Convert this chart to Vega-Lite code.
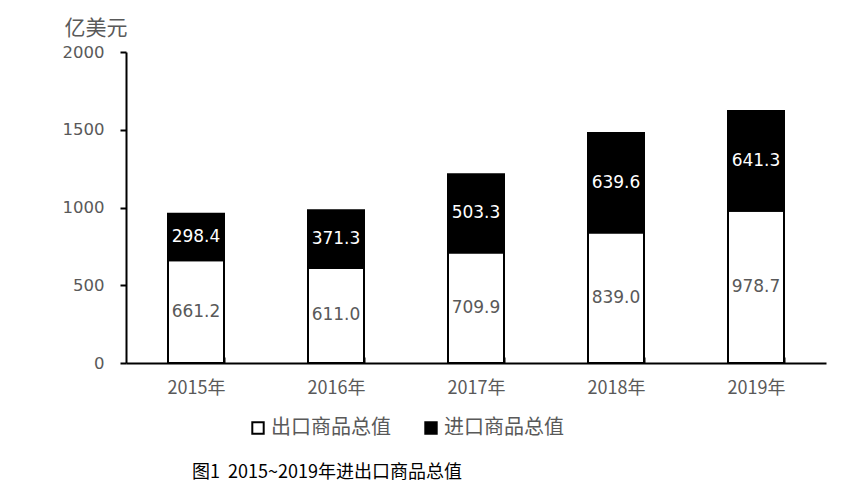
{
  "$schema": "https://vega.github.io/schema/vega-lite/v6.json",
  "width": 700,
  "height": 311,
  "autosize": {"type": "none"},
  "padding": {"left": 126, "top": 52, "right": 34, "bottom": 137},
  "background": "white",
  "config": {
    "view": {"stroke": null},
    "font": "DejaVu Sans",
    "axis": {"labelColor": "#595959", "labelFont": "DejaVu Sans", "labelFontSize": 15, "domainColor": "black", "domainWidth": 2, "tickColor": "black", "tickWidth": 2, "grid": false}
  },
  "title": {
    "text": "图1\u00a0\u00a02015~2019年进出口商品总值",
    "orient": "bottom",
    "anchor": "start",
    "frame": "group",
    "dx": 66,
    "offset": 26,
    "font": "Noto Sans CJK SC",
    "fontSize": 18,
    "fontWeight": "normal",
    "color": "black"
  },
  "data": {
    "values": [
      {"year": "2015年", "type": "出口商品总值", "ord": 1, "value": 661.2},
      {"year": "2015年", "type": "进口商品总值", "ord": 2, "value": 298.4},
      {"year": "2016年", "type": "出口商品总值", "ord": 1, "value": 611.0},
      {"year": "2016年", "type": "进口商品总值", "ord": 2, "value": 371.3},
      {"year": "2017年", "type": "出口商品总值", "ord": 1, "value": 709.9},
      {"year": "2017年", "type": "进口商品总值", "ord": 2, "value": 503.3},
      {"year": "2018年", "type": "出口商品总值", "ord": 1, "value": 839.0},
      {"year": "2018年", "type": "进口商品总值", "ord": 2, "value": 639.6},
      {"year": "2019年", "type": "出口商品总值", "ord": 1, "value": 978.7},
      {"year": "2019年", "type": "进口商品总值", "ord": 2, "value": 641.3}
    ]
  },
  "transform": [
    {"stack": "value", "groupby": ["year"], "sort": [{"field": "ord", "order": "ascending"}], "as": ["v0", "v1"]},
    {"calculate": "(datum.v0 + datum.v1) / 2", "as": "vmid"}
  ],
  "encoding": {
    "x": {
      "field": "year", "type": "nominal", "title": null,
      "scale": {"paddingInner": 0.6, "paddingOuter": 0.3},
      "axis": {"labelAngle": 0, "tickBand": "extent", "tickSize": -6, "labelPadding": 22, "labelFont": "Noto Sans CJK SC", "labelFontSize": 18, "labelColor": "#595959"}
    }
  },
  "layer": [
    {
      "mark": {"type": "bar", "stroke": "black", "strokeWidth": 2},
      "encoding": {
        "y": {
          "field": "v0", "type": "quantitative",
          "scale": {"domain": [0, 2000]},
          "axis": {"values": [0, 500, 1000, 1500, 2000], "format": "d", "tickSize": 6, "labelPadding": 16, "labelFontSize": 16.5,
            "title": "亿美元", "titleAngle": 0, "titleAlign": "left", "titleBaseline": "bottom", "titleAnchor": "end",
            "titleX": -62, "titleY": -14, "titleFont": "Noto Sans CJK SC", "titleFontSize": 21, "titleFontWeight": "normal", "titleColor": "#595959"}
        },
        "y2": {"field": "v1"},
        "fill": {
          "field": "type", "type": "nominal",
          "scale": {"domain": ["出口商品总值", "进口商品总值"], "range": ["white", "black"]},
          "legend": {
            "title": null, "orient": "none", "direction": "horizontal", "legendX": 122, "legendY": 366,
            "symbolType": "square", "symbolSize": 130, "symbolStrokeColor": "black", "symbolStrokeWidth": 2,
            "labelFont": "Noto Sans CJK SC", "labelFontSize": 20, "labelColor": "#595959", "columnPadding": 30, "labelOffset": 3
          }
        }
      }
    },
    {
      "mark": {"type": "text", "fontSize": 17, "font": "DejaVu Sans"},
      "encoding": {
        "y": {"field": "vmid", "type": "quantitative"},
        "text": {"field": "value", "type": "quantitative", "format": ".1f"},
        "color": {
          "field": "type", "type": "nominal",
          "scale": {"domain": ["出口商品总值", "进口商品总值"], "range": ["#595959", "white"]},
          "legend": null
        }
      }
    }
  ]
}
